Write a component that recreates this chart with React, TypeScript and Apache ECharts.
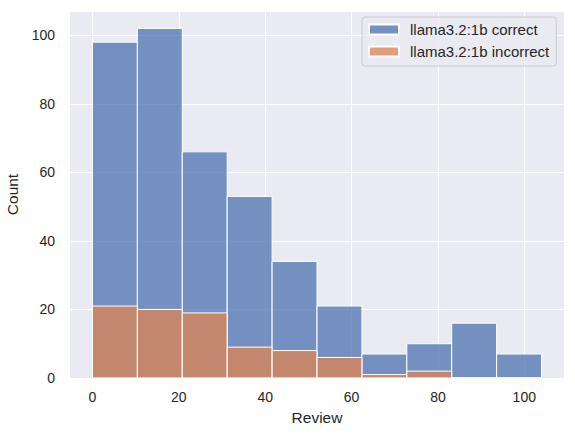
import React, { useEffect, useRef } from "react";
import * as echarts from "echarts";

const binEdges = [0, 10.4, 20.8, 31.2, 41.6, 52, 62.4, 72.8, 83.2, 93.6, 104];
const correctCounts = [98, 102, 66, 53, 34, 21, 7, 10, 16, 7];
const incorrectCounts = [21, 20, 19, 9, 8, 6, 1, 2, 0, 0];
const xTicks = [0, 20, 40, 60, 80, 100];
const seriesNames = ["llama3.2:1b correct", "llama3.2:1b incorrect"];
const xLabel = "Review";
const yLabel = "Count";

const FONT = "'Liberation Sans', Arial, sans-serif";
const TEXT = "#262626";

function binData(counts: number[]) {
  return counts.map((c, i) => [binEdges[i], binEdges[i + 1], c]);
}

function renderBar(color: string) {
  return (params: any, api: any) => {
    const x0 = api.value(0);
    const x1 = api.value(1);
    const y = api.value(2);
    const p0 = api.coord([x0, y]);
    const p1 = api.coord([x1, 0]);
    return {
      type: "rect",
      shape: { x: p0[0], y: p0[1], width: p1[0] - p0[0], height: p1[1] - p0[1] },
      style: { fill: color, stroke: "#ffffff", lineWidth: 1 },
    };
  };
}

export default function App() {
  const ref = useRef<HTMLDivElement>(null);
  useEffect(() => {
    if (!ref.current) return;
    const chart = echarts.init(ref.current, null, { renderer: "svg" });
    const blue = "rgba(76,114,176,0.75)";
    const orange = "rgba(221,132,82,0.75)";
    chart.setOption({
      animation: false,
      backgroundColor: "#ffffff",
      grid: {
        left: 70,
        right: 11,
        top: 11,
        bottom: 59,
        show: true,
        backgroundColor: "#EAEAF2",
        borderWidth: 0,
        containLabel: false,
        outerBoundsMode: "none",
      },
      xAxis: {
        type: "value",
        min: -5.2,
        max: 109.2,
        name: xLabel,
        nameLocation: "middle",
        nameGap: 31,
        nameTextStyle: { fontFamily: FONT, fontSize: 15.5, color: TEXT },
        axisLine: { show: false },
        axisTick: { show: false, customValues: xTicks },
        axisLabel: {
          customValues: xTicks,
          fontFamily: FONT,
          fontSize: 14,
          color: TEXT,
          margin: 12,
        },
        splitLine: { show: true, lineStyle: { color: "#ffffff", width: 1 } },
      },
      yAxis: {
        type: "value",
        min: 0,
        max: 107.1,
        interval: 20,
        name: yLabel,
        nameLocation: "middle",
        nameGap: 44,
        nameTextStyle: { fontFamily: FONT, fontSize: 15.5, color: TEXT },
        axisLine: { show: false },
        axisTick: { show: false },
        axisLabel: {
          fontFamily: FONT,
          fontSize: 14,
          color: TEXT,
          margin: 15,
          showMaxLabel: false,
        },
        splitLine: { show: true, lineStyle: { color: "#ffffff", width: 1 } },
      },
      legend: {
        orient: "vertical",
        left: 362,
        top: 17,
        padding: [5, 7, 7, 6],
        itemGap: 7,
        itemWidth: 30,
        itemHeight: 10,
        backgroundColor: "rgba(234,234,242,0.8)",
        borderColor: "#cccccc",
        borderWidth: 1,
        borderRadius: 3,
        data: [
          { name: seriesNames[0], icon: "rect" },
          { name: seriesNames[1], icon: "rect" },
        ],
        textStyle: {
          fontFamily: FONT,
          fontSize: 15,
          lineHeight: 15,
          color: TEXT,
          padding: [0, 0, 0, 6],
        },
      },
      series: [
        {
          type: "custom",
          name: seriesNames[0],
          renderItem: renderBar(blue),
          itemStyle: { color: blue, borderColor: "#ffffff", borderWidth: 1 },
          encode: { x: [0, 1], y: 2 },
          data: binData(correctCounts),
          z: 2,
        },
        {
          type: "custom",
          name: seriesNames[1],
          renderItem: renderBar(orange),
          itemStyle: { color: orange, borderColor: "#ffffff", borderWidth: 1 },
          encode: { x: [0, 1], y: 2 },
          data: binData(incorrectCounts),
          z: 3,
        },
      ],
    });
    return () => chart.dispose();
  }, []);
  return (
    <div
      ref={ref}
      style={{ position: "fixed", left: 0, top: 0, width: 575, height: 437 }}
    />
  );
}
